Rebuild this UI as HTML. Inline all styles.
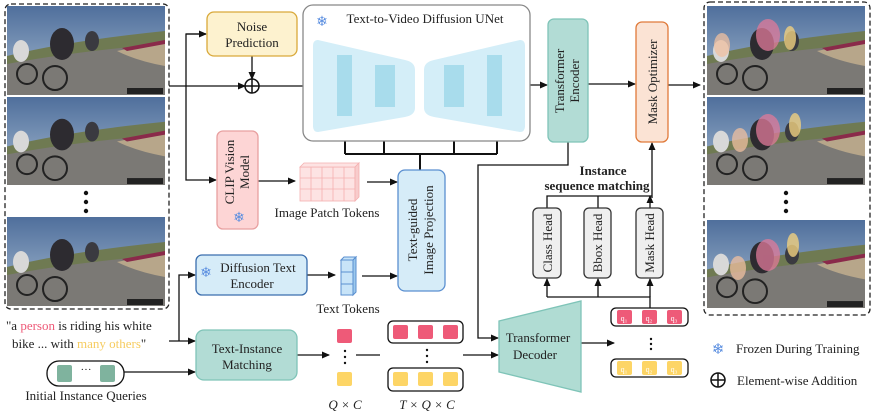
<!DOCTYPE html>
<html><head><meta charset="utf-8"><style>
html,body{margin:0;padding:0;background:#fff}
svg{display:block}
text{font-family:"Liberation Serif",serif;fill:#222}
</style></head><body>
<svg width="886" height="418" viewBox="0 0 886 418" xmlns="http://www.w3.org/2000/svg">
<defs>
<marker id="ar" markerWidth="8" markerHeight="8" refX="7" refY="4" orient="auto" markerUnits="userSpaceOnUse"><path d="M0,0.5 L8,4 L0,7.5 z" fill="#111"/></marker>
<linearGradient id="sky" x1="0" y1="0" x2="0" y2="1"><stop offset="0" stop-color="#4f6f9c"/><stop offset="1" stop-color="#a9bdd2"/></linearGradient>
<symbol id="photo" viewBox="0 0 158 89" preserveAspectRatio="none">
<rect width="158" height="89" fill="url(#sky)"/>
<path d="M0,50 Q60,35 158,25 L158,89 L0,89 z" fill="#6f7a52"/>
<path d="M0,58 Q70,45 158,38 L158,89 L0,89 z" fill="#7b7975"/>
<path d="M110,45 L158,35 L158,60 Q130,55 110,45z" fill="#b7a68a"/>
<path d="M115,42 L158,34 L158,38 L120,45z" fill="#8a2a4a"/>
<ellipse cx="55" cy="38" rx="12" ry="16" fill="#2d2b30"/>
<ellipse cx="85" cy="35" rx="7" ry="10" fill="#3a3a40"/>
<ellipse cx="14" cy="45" rx="8" ry="11" fill="#d8d8d8"/>
<circle cx="48" cy="72" r="12" fill="none" stroke="#222" stroke-width="2"/>
<circle cx="20" cy="68" r="10" fill="none" stroke="#222" stroke-width="2"/>
<rect x="120" y="82" width="36" height="6" fill="#222"/>
</symbol>
</defs>

<!-- left panel -->
<rect x="5" y="4" width="164" height="305" rx="6" fill="none" stroke="#222" stroke-width="1.3" stroke-dasharray="5,3"/>
<use href="#photo" x="7" y="6" width="158" height="89"/>
<use href="#photo" x="7" y="97" width="158" height="88"/>
<use href="#photo" x="7" y="217" width="158" height="89"/>
<circle cx="86" cy="193" r="2.2" fill="#111"/><circle cx="86" cy="202" r="2.2" fill="#111"/><circle cx="86" cy="211" r="2.2" fill="#111"/>

<!-- right panel -->
<rect x="704" y="2" width="166" height="313" rx="6" fill="none" stroke="#222" stroke-width="1.3" stroke-dasharray="5,3"/>
<use href="#photo" x="707" y="6" width="158" height="89"/>
<use href="#photo" x="707" y="97" width="158" height="88"/>
<use href="#photo" x="707" y="220" width="158" height="88"/>
<g fill="#e07a9a" opacity="0.75">
<ellipse cx="768" cy="35" rx="12" ry="16"/><ellipse cx="768" cy="130" rx="12" ry="16"/><ellipse cx="768" cy="255" rx="12" ry="16"/>
<ellipse cx="722" cy="45" rx="8" ry="12" fill="#f0c0a0"/><ellipse cx="740" cy="140" rx="8" ry="12" fill="#f0c0a0"/><ellipse cx="738" cy="268" rx="8" ry="12" fill="#f0c0a0"/>
</g>
<g fill="#f0d080" opacity="0.8"><ellipse cx="790" cy="38" rx="6" ry="12"/><ellipse cx="795" cy="125" rx="6" ry="12"/><ellipse cx="793" cy="245" rx="6" ry="12"/></g>
<circle cx="786" cy="193" r="2.2" fill="#111"/><circle cx="786" cy="202" r="2.2" fill="#111"/><circle cx="786" cy="211" r="2.2" fill="#111"/>

<!-- connectors -->
<g stroke="#111" stroke-width="1.3" fill="none">
<line x1="169" y1="86" x2="245" y2="86" marker-end="url(#ar)"/>
<line x1="259" y1="86" x2="313" y2="86" marker-end="url(#ar)"/>
<polyline points="206,34 186,34 186,180 216,180" marker-end="url(#ar)"/>
<line x1="186" y1="34" x2="206" y2="34" marker-end="url(#ar)"/>
<line x1="252" y1="56" x2="252" y2="79" marker-end="url(#ar)"/>
<path d="M359,48 Q415,18 473,47" marker-end="url(#ar)"/>
<line x1="530" y1="85" x2="547" y2="85" marker-end="url(#ar)"/>
<line x1="588" y1="84" x2="635" y2="84" marker-end="url(#ar)"/>
<line x1="668" y1="85" x2="700" y2="85" marker-end="url(#ar)"/>
<line x1="258" y1="181" x2="295" y2="181" marker-end="url(#ar)"/>
<line x1="367" y1="182" x2="397" y2="182" marker-end="url(#ar)"/>
<line x1="307" y1="275" x2="335" y2="275" marker-end="url(#ar)"/>
<line x1="362" y1="276" x2="397" y2="276" marker-end="url(#ar)"/>
<polyline points="179,341 179,275 195,275" marker-end="url(#ar)"/>
<line x1="169" y1="341" x2="195" y2="341" marker-end="url(#ar)"/>
<line x1="124" y1="372" x2="195" y2="372" marker-end="url(#ar)"/>
<line x1="297" y1="355" x2="329" y2="355" marker-end="url(#ar)"/>
<line x1="356" y1="355" x2="380" y2="355"/>
<line x1="463" y1="355" x2="498" y2="355" marker-end="url(#ar)"/>
<polyline points="568,142 568,165 478,165 478,338 498,338" marker-end="url(#ar)"/>
<line x1="581" y1="343" x2="614" y2="343" marker-end="url(#ar)"/>
<polyline points="650,308 650,297 547,297"/>
<line x1="547" y1="297" x2="547" y2="279" marker-end="url(#ar)"/>
<line x1="598" y1="297" x2="598" y2="279" marker-end="url(#ar)"/>
<line x1="650" y1="297" x2="650" y2="279" marker-end="url(#ar)"/>
<polyline points="547,208 547,196 652,196"/>
<line x1="598" y1="208" x2="598" y2="196"/>
<line x1="650" y1="208" x2="650" y2="196" marker-end="url(#ar)"/>
<line x1="652" y1="198" x2="652" y2="143" marker-end="url(#ar)"/>
</g>
<g stroke="#111" stroke-width="2" fill="none">
<line x1="420" y1="170" x2="420" y2="154"/>
<polyline points="345,154 497,154"/>
<line x1="345" y1="154" x2="345" y2="128" marker-end="url(#ar)"/>
<line x1="384" y1="154" x2="384" y2="128" marker-end="url(#ar)"/>
<line x1="454" y1="154" x2="454" y2="128" marker-end="url(#ar)"/>
<line x1="497" y1="154" x2="497" y2="128" marker-end="url(#ar)"/>
</g>

<!-- plus -->
<circle cx="252" cy="86" r="7" fill="#fff" stroke="#111" stroke-width="1.5"/>
<line x1="245" y1="86" x2="259" y2="86" stroke="#111" stroke-width="1.5"/><line x1="252" y1="79" x2="252" y2="93" stroke="#111" stroke-width="1.5"/>

<!-- noise prediction -->
<rect x="207" y="12" width="90" height="44" rx="7" fill="#fdf2cf" stroke="#d9a93a" stroke-width="1.3"/>
<text x="252" y="31" font-size="13" text-anchor="middle">Noise</text>
<text x="252" y="47" font-size="13" text-anchor="middle">Prediction</text>

<!-- UNet -->
<rect x="303" y="5" width="227" height="136" rx="10" fill="#fff" stroke="#888" stroke-width="1.3"/>
<text x="322" y="26" font-size="14" text-anchor="middle" fill="#5a8ee0" style="fill:#5a8ee0">❄</text>
<text x="425" y="23" font-size="13" text-anchor="middle">Text-to-Video Diffusion UNet</text>
<path d="M318,40 L405,60 Q415,62 415,70 L415,108 Q415,115 405,117 L318,132 Q313,132 313,126 L313,46 Q313,40 318,40z" fill="#d4eef8"/>
<path d="M520,40 L434,60 Q424,62 424,70 L424,108 Q424,115 434,117 L520,132 Q525,132 525,126 L525,46 Q525,40 520,40z" fill="#d4eef8"/>
<rect x="337" y="55" width="15" height="61" fill="#a8dcec"/>
<rect x="375" y="65" width="20" height="42" fill="#a8dcec"/>
<rect x="444" y="65" width="20" height="42" fill="#a8dcec"/>
<rect x="487" y="55" width="15" height="61" fill="#a8dcec"/>

<!-- transformer encoder -->
<rect x="548" y="19" width="40" height="123" rx="6" fill="#b2dcd5" stroke="#7fc4b8" stroke-width="1.3"/>
<text transform="translate(564,81) rotate(-90)" font-size="13" text-anchor="middle">Transformer</text>
<text transform="translate(579,81) rotate(-90)" font-size="13" text-anchor="middle">Encoder</text>

<!-- mask optimizer -->
<rect x="636" y="22" width="32" height="120" rx="6" fill="#fbe3d4" stroke="#e07a3a" stroke-width="1.3"/>
<text transform="translate(657,82) rotate(-90)" font-size="13" text-anchor="middle">Mask Optimizer</text>

<!-- CLIP -->
<rect x="217" y="131" width="41" height="98" rx="6" fill="#fdd5d5" stroke="#e8a0a0" stroke-width="1.3"/>
<text transform="translate(234,172) rotate(-90)" font-size="13" text-anchor="middle">CLIP Vision</text>
<text transform="translate(249,172) rotate(-90)" font-size="13" text-anchor="middle">Model</text>
<text x="239" y="222" font-size="14" text-anchor="middle" style="fill:#5a8ee0">❄</text>

<!-- image patch tokens -->
<g fill="#fde3e3" stroke="#f4b0b0" stroke-width="0.8">
<rect x="300" y="167" width="55" height="34"/>
<line x1="311" y1="167" x2="311" y2="201"/><line x1="322" y1="167" x2="322" y2="201"/><line x1="333" y1="167" x2="333" y2="201"/><line x1="344" y1="167" x2="344" y2="201"/>
<line x1="300" y1="178" x2="355" y2="178"/><line x1="300" y1="189" x2="355" y2="189"/>
<path d="M300,167 L304,163 L359,163 L355,167z"/><path d="M355,167 L359,163 L359,197 L355,201z" fill="#f8cccc"/>
</g>
<text x="327" y="217" font-size="13" text-anchor="middle">Image Patch Tokens</text>

<!-- text-guided -->
<rect x="398" y="170" width="47" height="121" rx="7" fill="#d6ecf8" stroke="#5a8fd0" stroke-width="1.3"/>
<text transform="translate(417,230) rotate(-90)" font-size="13" text-anchor="middle">Text-guided</text>
<text transform="translate(433,230) rotate(-90)" font-size="13" text-anchor="middle">Image Projection</text>

<!-- diffusion text encoder -->
<rect x="196" y="255" width="111" height="40" rx="6" fill="#d6ecf8" stroke="#3a6eae" stroke-width="1.3"/>
<text x="206" y="277" font-size="14" text-anchor="middle" style="fill:#5a8ee0">❄</text>
<text x="258" y="272" font-size="13" text-anchor="middle">Diffusion Text</text>
<text x="252" y="288" font-size="13" text-anchor="middle">Encoder</text>

<!-- text tokens -->
<g fill="#c8e4f8" stroke="#5a8fd0" stroke-width="1">
<rect x="341" y="260" width="12" height="12"/><rect x="341" y="272" width="12" height="12"/><rect x="341" y="284" width="12" height="11"/>
<path d="M341,260 L344,257 L356,257 L353,260z"/><path d="M353,260 L356,257 L356,292 L353,295z" fill="#9cc8ec"/>
</g>
<text x="348" y="313" font-size="13" text-anchor="middle">Text Tokens</text>

<!-- quote -->
<text x="6" y="330" font-size="13">"a <tspan style="fill:#ee5a78">person</tspan> is riding his white</text>
<text x="12" y="348" font-size="13">bike ... with <tspan style="fill:#f6cc60">many others</tspan>"</text>

<!-- initial queries -->
<rect x="47" y="361" width="77" height="25" rx="12" fill="#fff" stroke="#111" stroke-width="1.3"/>
<rect x="57" y="365" width="15" height="17" rx="2" fill="#7fb39e"/>
<rect x="100" y="365" width="15" height="17" rx="2" fill="#7fb39e"/>
<text x="86" y="373" font-size="11" text-anchor="middle">···</text>
<text x="86" y="400" font-size="13" text-anchor="middle">Initial  Instance Queries</text>

<!-- text-instance matching -->
<rect x="196" y="330" width="101" height="50" rx="8" fill="#b2dcd5" stroke="#7fc4b8" stroke-width="1.3"/>
<text x="247" y="353" font-size="13" text-anchor="middle">Text-Instance</text>
<text x="247" y="369" font-size="13" text-anchor="middle">Matching</text>

<!-- Q x C -->
<rect x="337" y="329" width="15" height="14" rx="2" fill="#ee5a78"/>
<rect x="337" y="372" width="15" height="14" rx="2" fill="#fdd566"/>
<circle cx="345" cy="351" r="1.2" fill="#111"/><circle cx="345" cy="357" r="1.2" fill="#111"/><circle cx="345" cy="363" r="1.2" fill="#111"/>
<text x="345" y="409" font-size="13" text-anchor="middle" font-style="italic">Q  × C</text>

<!-- T x Q x C -->
<rect x="388" y="321" width="75" height="22" rx="5" fill="#fff" stroke="#111" stroke-width="1.3"/>
<rect x="393" y="325" width="15" height="14" rx="2" fill="#ee5a78"/><rect x="418" y="325" width="15" height="14" rx="2" fill="#ee5a78"/><rect x="443" y="325" width="15" height="14" rx="2" fill="#ee5a78"/>
<rect x="388" y="368" width="75" height="23" rx="5" fill="#fff" stroke="#111" stroke-width="1.3"/>
<rect x="393" y="372" width="15" height="14" rx="2" fill="#fdd566"/><rect x="418" y="372" width="15" height="14" rx="2" fill="#fdd566"/><rect x="443" y="372" width="15" height="14" rx="2" fill="#fdd566"/>
<circle cx="427" cy="350" r="1.2" fill="#111"/><circle cx="427" cy="356" r="1.2" fill="#111"/><circle cx="427" cy="362" r="1.2" fill="#111"/>
<text x="427" y="409" font-size="13" text-anchor="middle" font-style="italic">T × Q × C</text>

<!-- transformer decoder -->
<path d="M499,321 L581,301 L581,392 L499,372z" fill="#b0dcd3" stroke="#7fc4b8" stroke-width="1.3"/>
<text x="538" y="342" font-size="13" text-anchor="middle">Transformer</text>
<text x="535" y="359" font-size="13" text-anchor="middle">Decoder</text>

<!-- output queries -->
<rect x="611" y="308" width="77" height="18" rx="5" fill="#fff" stroke="#111" stroke-width="1.3"/>
<rect x="617" y="310" width="15" height="14" rx="2" fill="#ee5a78"/><rect x="642" y="310" width="15" height="14" rx="2" fill="#ee5a78"/><rect x="667" y="310" width="15" height="14" rx="2" fill="#ee5a78"/>
<rect x="611" y="359" width="77" height="18" rx="5" fill="#fff" stroke="#111" stroke-width="1.3"/>
<rect x="617" y="361" width="15" height="14" rx="2" fill="#fdd566"/><rect x="642" y="361" width="15" height="14" rx="2" fill="#fdd566"/><rect x="667" y="361" width="15" height="14" rx="2" fill="#fdd566"/>
<g font-size="8" style="fill:#fff" text-anchor="middle">
<text x="624" y="321" style="fill:#fff">q₁</text><text x="649" y="321" style="fill:#fff">q₂</text><text x="674" y="321" style="fill:#fff">q₃</text>
<text x="624" y="372" style="fill:#fff">q₁</text><text x="649" y="372" style="fill:#fff">q₂</text><text x="674" y="372" style="fill:#fff">q₃</text>
</g>
<circle cx="651" cy="339" r="1.2" fill="#111"/><circle cx="651" cy="344" r="1.2" fill="#111"/><circle cx="651" cy="349" r="1.2" fill="#111"/>

<!-- heads -->
<rect x="533" y="208" width="28" height="70" rx="5" fill="#efefef" stroke="#333" stroke-width="1.3"/>
<rect x="584" y="208" width="27" height="70" rx="5" fill="#efefef" stroke="#333" stroke-width="1.3"/>
<rect x="636" y="208" width="27" height="70" rx="5" fill="#efefef" stroke="#333" stroke-width="1.3"/>
<text transform="translate(552,243) rotate(-90)" font-size="13" text-anchor="middle">Class Head</text>
<text transform="translate(602,243) rotate(-90)" font-size="13" text-anchor="middle">Bbox Head</text>
<text transform="translate(654,243) rotate(-90)" font-size="13" text-anchor="middle">Mask Head</text>
<text x="603" y="175" font-size="13" font-weight="bold" text-anchor="middle">Instance</text>
<text x="597" y="190" font-size="13" font-weight="bold" text-anchor="middle">sequence matching</text>

<!-- legend -->
<text x="718" y="354" font-size="15" text-anchor="middle" style="fill:#5a8ee0">❄</text>
<text x="736" y="353" font-size="13">Frozen During Training</text>
<circle cx="718" cy="380" r="7" fill="#fff" stroke="#111" stroke-width="1.5"/>
<line x1="711" y1="380" x2="725" y2="380" stroke="#111" stroke-width="1.5"/><line x1="718" y1="373" x2="718" y2="387" stroke="#111" stroke-width="1.5"/>
<text x="737" y="385" font-size="13">Element-wise Addition</text>
</svg>
</body></html>
